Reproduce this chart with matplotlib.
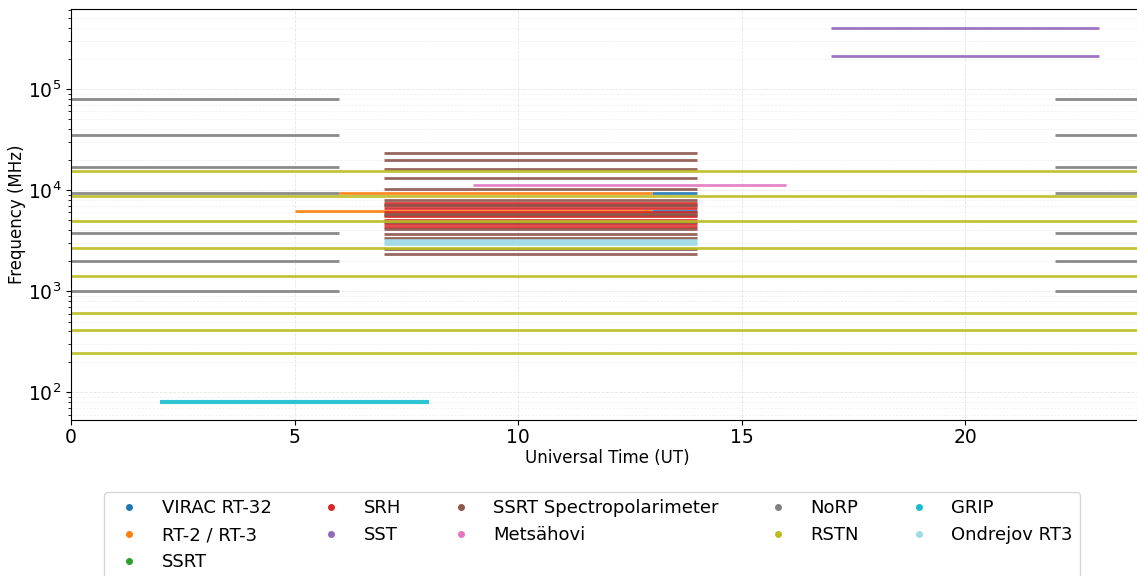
import matplotlib
matplotlib.use("Agg")
import matplotlib.pyplot as plt
from matplotlib.lines import Line2D

# frequencies in MHz, observing windows in UT hours
virac_freqs = [6200, 9400]
virac_times = [(13, 14)]

rt2_freqs = [6200]
rt2_times = [(5, 13)]
rt3_freqs = [9400]
rt3_times = [(6, 13)]

ssrt_freqs = [5700]
ssrt_times = [(7, 14)]

srh_freqs = [4300, 4600, 5000, 5500, 6000, 6700, 7100, 7500]
srh_times = [(7, 14)]

sst_freqs = [212000, 405000]
sst_times = [(17, 23)]

spectro_freqs = [2320, 2590, 3320, 3640, 4110, 4860, 5740, 7090, 8000,
                 10200, 13200, 16200, 19800, 23300]
spectro_times = [(7, 14)]

metsahovi_freqs = [11200]
metsahovi_times = [(9, 16)]

norp_freqs = [1000, 2000, 3750, 9400, 17000, 35000, 80000]
norp_times = [(0, 6), (22, 24)]

rstn_freqs = [245, 410, 610, 1415, 2695, 4995, 8800, 15400]
rstn_times = [(0, 24)]

grip_freqs = [80]
grip_times = [(2, 8)]

ondrejov_freqs = [2900, 3050, 3200]
ondrejov_times = [(7, 14)]

# label, colour, groups of (freqs, times), line width
instruments = [
    ("VIRAC RT-32", "tab:blue", [(virac_freqs, virac_times)], 2),
    ("RT-2 / RT-3", "tab:orange", [(rt2_freqs, rt2_times), (rt3_freqs, rt3_times)], 2),
    ("SSRT", "tab:green", [(ssrt_freqs, ssrt_times)], 2),
    ("SRH", "tab:red", [(srh_freqs, srh_times)], 2),
    ("SST", "tab:purple", [(sst_freqs, sst_times)], 2),
    ("SSRT Spectropolarimeter", "tab:brown", [(spectro_freqs, spectro_times)], 2),
    ("Metsähovi", "tab:pink", [(metsahovi_freqs, metsahovi_times)], 2),
    ("NoRP", "tab:gray", [(norp_freqs, norp_times)], 2),
    ("RSTN", "tab:olive", [(rstn_freqs, rstn_times)], 2),
    ("GRIP", "tab:cyan", [(grip_freqs, grip_times)], 3),
    ("Ondrejov RT3", "#9edae5", [(ondrejov_freqs, ondrejov_times)], 2),
]

fig = plt.figure(figsize=(11.37, 5.76), dpi=100)
ax = fig.add_axes([71 / 1137, 156 / 576, 1073 / 1137, 411 / 576])

handles = []
for label, color, groups, lw in instruments:
    for freqs, times in groups:
        for t0, t1 in times:
            ax.hlines(freqs, t0, t1, colors=color, linewidth=lw, alpha=0.9)
    handles.append(Line2D([], [], marker="o", linestyle="", markersize=4,
                          color=color, label=label))

ax.set_yscale("log")
ax.set_xlim(0, 24)
ax.set_ylim(53, 6.2e5)
ax.set_xticks([0, 5, 10, 15, 20])
ax.tick_params(axis="both", which="major", labelsize=13.5)
ax.tick_params(axis="x", which="major", pad=2)
ax.set_xlabel("Universal Time (UT)", fontsize=12, labelpad=2)
ax.set_ylabel("Frequency (MHz)", fontsize=12, labelpad=1)
ax.grid(True, which="major", linestyle="--", linewidth=0.6, alpha=0.3)
ax.grid(True, which="minor", axis="y", linestyle="--", linewidth=0.5, alpha=0.2)

fig.legend(handles=handles, loc="upper center", ncol=5, fontsize=13,
           bbox_to_anchor=(592 / 1137, 1 - 483 / 576), columnspacing=2.3)

fig.savefig("out.png", dpi=100)
